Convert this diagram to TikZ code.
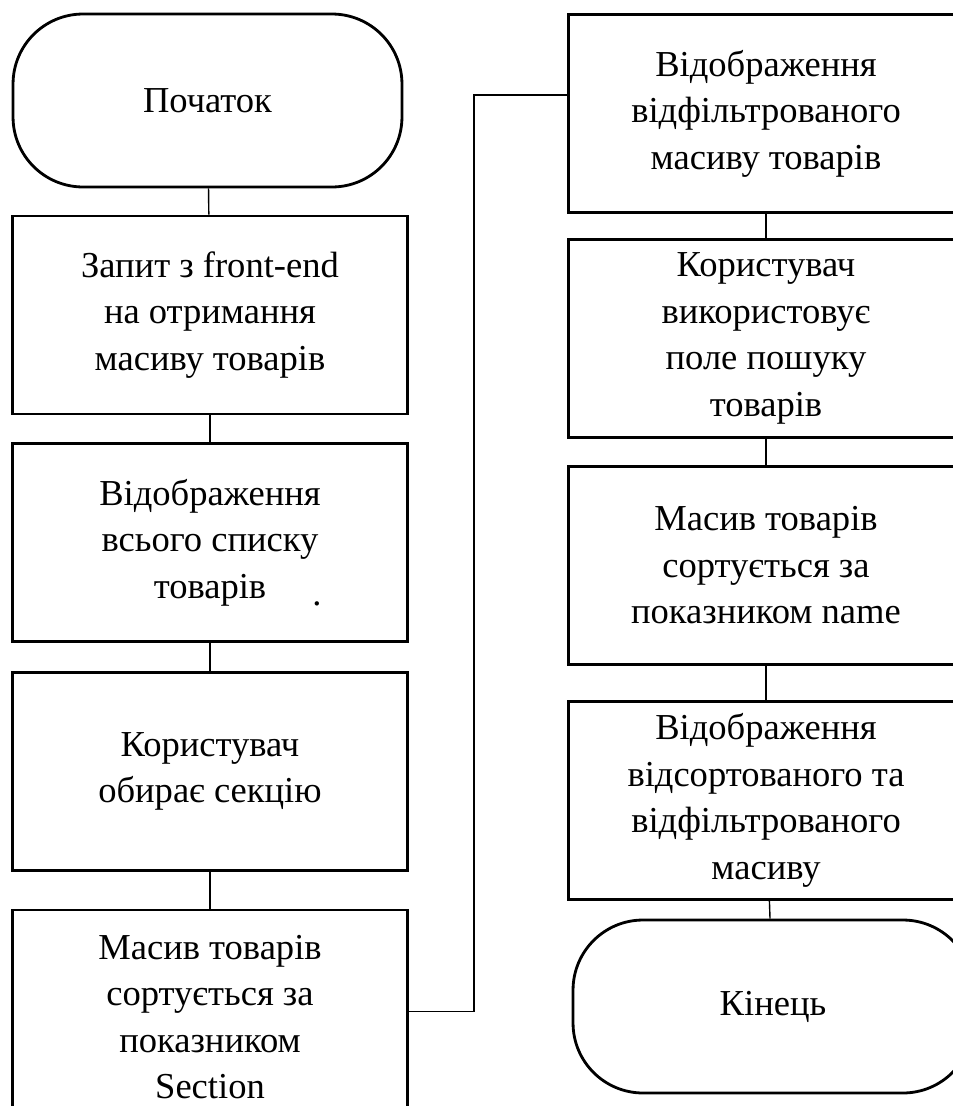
\documentclass[tikz,border=0pt]{standalone}
\usepackage{fontspec}
\setmainfont{Liberation Serif}
\usetikzlibrary{calc}

\tikzset{
    block/.style={draw, line width=1.6pt, minimum width=7.9cm, minimum height=3.96cm, align=center, inner sep=0pt},
    term/.style={draw, line width=1.6pt, rounded corners=1.4cm, minimum height=3.46cm, align=center},
    link/.style={line width=0.8pt}
}

\begin{document}
\begin{tikzpicture}[x=0.02cm, y=-0.02cm, font=\fontsize{20.8}{26.5}\selectfont]
    % Page frame (pixel grid of the scan)
    \clip (0,0) rectangle (953,1106);

    % Left column
    \node[term, minimum width=7.78cm] (start) at (207.5,100.5) {Початок};
    \node[block] (b1) at (210,315) {Запит з front-end\\на отримання\\масиву товарів};
    \node[block] (b2) at (210,542.5) {Відображення\\всього списку\\товарів};
    \node (dot) at (317,604) {.};
    \node[block] (b3) at (210,771.5) {Користувач\\обирає секцію};
    \node[block, minimum height=4.28cm] (b4) at (210,1017) {Масив товарів\\сортується за\\показником\\Section};

    % Right column
    \node[block] (b5) at (766,113.5) {Відображення\\відфільтрованого\\масиву товарів};
    \node[block] (b6) at (766,338.5) {Користувач\\використовує\\поле пошуку\\товарів};
    \node[block] (b7) at (766,565.5) {Масив товарів\\сортується за\\показником name};
    \node[block] (b8) at (766,800.5) {Відображення\\відсортованого та\\відфільтрованого\\масиву};
    \node[term, minimum width=8cm] (end) at (773,1006.5) {Кінець};

    % Connectors
    \foreach \a/\b in {start/b1, b1/b2, b2/b3, b3/b4, b5/b6, b6/b7, b7/b8, b8/end}
        \draw[link] (\a) -- (\b);

    % Jump from the left column to the right one
    \coordinate (turn) at (474,95);
    \draw[link] ($(b4.north east)+(0,103)$) -| (turn) -- (turn -| b5.west);
\end{tikzpicture}
\end{document}
